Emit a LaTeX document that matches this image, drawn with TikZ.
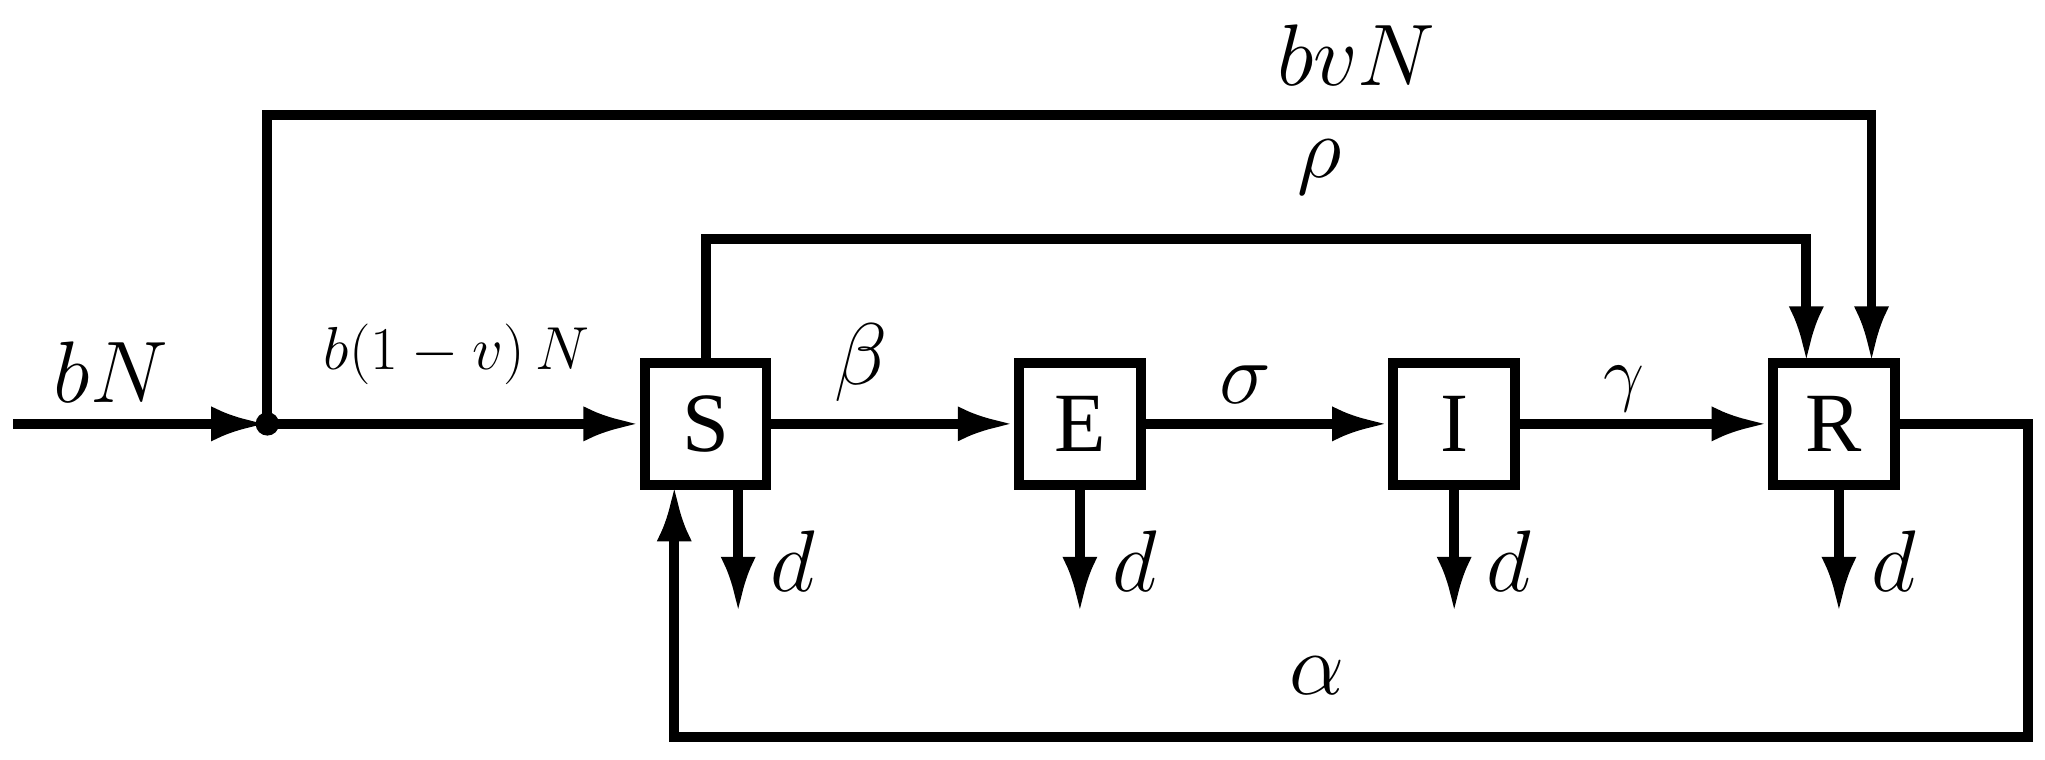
\documentclass[tikz,border=0pt]{standalone}
\usepackage{fontspec}
\setmainfont{Liberation Serif}
\usetikzlibrary{arrows.meta}
\begin{document}
\begin{tikzpicture}[x=0.01304cm,y=-0.01304cm,line width=2.8pt,
  box/.style={draw,minimum width=1.22cm,minimum height=1.22cm,inner sep=0pt,font=\fontsize{24}{28}\selectfont},
  arr/.style={-{Latex[length=16pt,width=10pt]}},
  lab/.style={font=\fontsize{27}{30}\selectfont},
  dl/.style={font=\fontsize{28}{32}\selectfont}]
\useasboundingbox (0,0) rectangle (1568,582);
\node[box] (S) at (541,325) {S};
\node[box] (E) at (828,325) {E};
\node[box] (I) at (1115,325) {I};
\node[box] (R) at (1406,325) {R};
\coordinate (in) at (10,325);
\fill (205,325) circle (9) coordinate (J);
\draw[arr] (in) -- (J);
\draw[arr] (J) -- (S);
\draw[arr] (S) -- (E);
\draw[arr] (E) -- (I);
\draw[arr] (I) -- (R);
\draw[arr] (J) -- (205,88) -- (1435,88) -- (1435,278);
\draw[arr] (541,278) -- (541,183) -- (1385,183) -- (1385,278);
\draw[arr] (1455,325) -- (1555,325) -- (1555,565) -- (517,565) -- (517,372);
\foreach \x in {566,828,1115,1410}{\draw[arr] (\x,372) -- (\x,470);}
\node[lab] at (85,285) {$bN$};
\node[font=\fontsize{19}{22}\selectfont] at (350,272) {$b\bigl(1-v\bigr)\,N$};
\node[lab] at (1040,42) {$bvN$};
\node[lab] at (1012,128) {$\rho$};
\node[lab] at (660,278) {$\beta$};
\node[lab] at (955,295) {$\sigma$};
\node[font=\fontsize{22}{26}\selectfont] at (1245,298) {$\gamma$};
\node[font=\fontsize{36}{40}\selectfont] at (1010,518) {$\alpha$};
\node[dl] at (608,430) {$d$};
\node[dl] at (870,430) {$d$};
\node[dl] at (1157,430) {$d$};
\node[dl] at (1452,430) {$d$};
\end{tikzpicture}
\end{document}
